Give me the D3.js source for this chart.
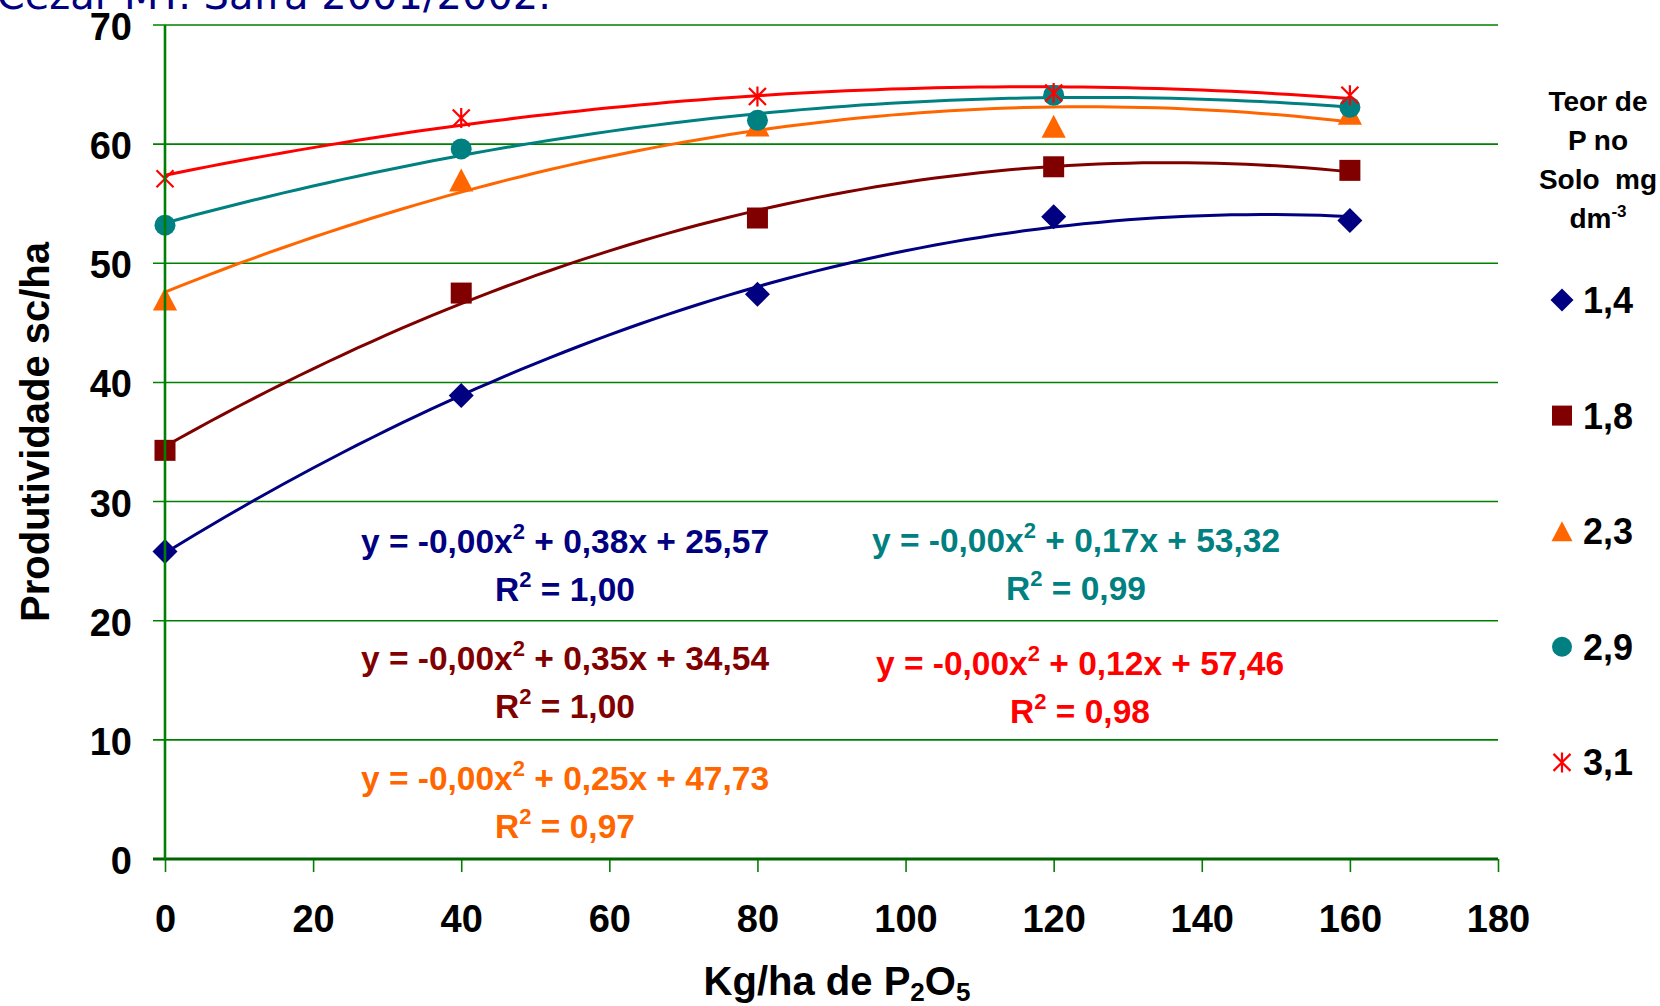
<!DOCTYPE html>
<html>
<head>
<meta charset="utf-8">
<script src="https://cdn.jsdelivr.net/npm/d3@7/dist/d3.min.js"></script>
<style>
body{margin:0;background:#fff;}
svg{display:block;font-family:"Liberation Sans",Arial,sans-serif;font-weight:bold;}
</style>
</head>
<body>
<svg id="chart" width="1660" height="1006"></svg>
<script>
// DATA
var doses = [0, 40, 80, 120, 160];
var teores = ["1,4", "1,8", "2,3", "2,9", "3,1"];
var prod_14 = [25.8, 38.9, 47.4, 53.9, 53.6];
var prod_18 = [34.3, 47.5, 53.8, 58.1, 57.8];
var prod_23 = [47.0, 57.0, 61.6, 61.5, 62.6];
var prod_29 = [53.2, 59.6, 62.0, 64.1, 63.1];
var prod_31 = [57.1, 62.2, 64.0, 64.3, 64.1];

// EQUATION LABELS AS PRINTED
var coef_lin = ["0,38", "0,35", "0,25", "0,17", "0,12"];
var coef_const = ["25,57", "34,54", "47,73", "53,32", "57,46"];
var r2 = ["1,00", "1,00", "0,97", "0,99", "0,98"];

var x_ticks = [0, 20, 40, 60, 80, 100, 120, 140, 160, 180];
var y_ticks = [0, 10, 20, 30, 40, 50, 60, 70];

// STYLE / LAYOUT
var cores = ["#000080", "#800000", "#FF6600", "#008080", "#FF0000"];
var simbolos = ["diamond", "square", "triangle", "circle", "star"];
var tam = [25, 21, 23, 21, 20];
var eq_pos = [[565, 553], [565, 670], [565, 790], [1076, 552], [1080, 675]];
var verde = "#008000";

var series = [prod_14, prod_18, prod_23, prod_29, prod_31];

var svg = d3.select("#chart");
var x = d3.scaleLinear().domain([0, 180]).range([165, 1498]);
var y = d3.scaleLinear().domain([0, 70]).range([859, 25]);

draw_title();
draw_grid();
draw_trends();
draw_points();
draw_axes();
draw_equations();
draw_legend();


function draw_title(){
    // only the bottom of this line is visible in the picture
    svg.append("text")
        .attr("x", 551)
        .attr("y", 9)
        .attr("text-anchor", "end")
        .attr("fill", "#000080")
        .style("font-family", "'DejaVu Sans', Verdana, sans-serif")
        .style("font-weight", "normal")
        .style("font-size", "40px")
        .text("Cezar MT. Safra 2001/2002.");
}


function draw_grid(){
    // HORIZONTAL LINES, LEFT END STICKS OUT AS A TICK
    svg.append("g").selectAll("line")
        .data(y_ticks.filter(function(d){ return d > 0; }))
        .enter().append("line")
        .attr("x1", 153)
        .attr("x2", x(180))
        .attr("y1", function(d){ return y(d); })
        .attr("y2", function(d){ return y(d); })
        .attr("stroke", verde)
        .attr("stroke-width", 1.6);
}


// least squares 2nd order, same as the excel trendline
function polyfit2(xs, ys){
    var n = xs.length, s1 = 0, s2 = 0, s3 = 0, s4 = 0, t0 = 0, t1 = 0, t2 = 0;
    for(var i = 0; i < n; i++){
        var a = xs[i], b = ys[i];
        s1 += a; s2 += a*a; s3 += a*a*a; s4 += a*a*a*a;
        t0 += b; t1 += a*b; t2 += a*a*b;
    }
    var m = [[n, s1, s2], [s1, s2, s3], [s2, s3, s4]];
    var v = [t0, t1, t2];
    function det(q){
        return q[0][0]*(q[1][1]*q[2][2]-q[1][2]*q[2][1])
             - q[0][1]*(q[1][0]*q[2][2]-q[1][2]*q[2][0])
             + q[0][2]*(q[1][0]*q[2][1]-q[1][1]*q[2][0]);
    }
    var d = det(m), out = [];
    for(var c = 0; c < 3; c++){
        var q = m.map(function(row, r){ return row.map(function(val, k){ return k == c ? v[r] : val; }); });
        out.push(det(q)/d);
    }
    return out; // c0, c1, c2
}


function draw_trends(){
    var line = d3.line()
        .x(function(d){ return x(d[0]); })
        .y(function(d){ return y(d[1]); });

    series.forEach(function(s, i){
        var c = polyfit2(doses, s);
        var pts = d3.range(0, 160.5, 2).map(function(t){
            return [t, c[0] + c[1]*t + c[2]*t*t];
        });
        svg.append("path")
            .attr("d", line(pts))
            .attr("fill", "none")
            .attr("stroke", cores[i])
            .attr("stroke-width", 3);
    });
}


function marker(g, tipo, cor, s){
    var h = s/2;
    if(tipo == "diamond"){
        g.append("path").attr("d", "M0," + (-h) + "L" + h + ",0L0," + h + "L" + (-h) + ",0Z").attr("fill", cor);
    }
    if(tipo == "square"){
        g.append("rect").attr("x", -h).attr("y", -h).attr("width", s).attr("height", s).attr("fill", cor);
    }
    if(tipo == "triangle"){
        g.append("path").attr("d", "M0," + (-h) + "L" + (h*1.05) + "," + h + "L" + (-h*1.05) + "," + h + "Z").attr("fill", cor);
    }
    if(tipo == "circle"){
        g.append("circle").attr("r", h).attr("fill", cor);
    }
    if(tipo == "star"){
        var k = h*0.85;
        g.append("path")
            .attr("d", "M" + (-k) + "," + (-k) + "L" + k + "," + k + "M" + k + "," + (-k) + "L" + (-k) + "," + k + "M0," + (-h) + "L0," + h)
            .attr("stroke", cor).attr("stroke-width", 2.2).attr("fill", "none");
    }
}


function draw_points(){
    series.forEach(function(s, i){
        s.forEach(function(v, j){
            var g = svg.append("g").attr("transform", "translate(" + x(doses[j]) + "," + y(v) + ")");
            marker(g, simbolos[i], cores[i], tam[i]);
        });
    });
}


function draw_axes(){
    var xa = svg.append("g")
        .attr("transform", "translate(0," + y(0) + ")")
        .call(d3.axisBottom(x).tickValues(x_ticks).tickSize(13).tickPadding(33).tickFormat(d3.format("d")));
    xa.select(".domain").remove();
    xa.selectAll("line").attr("stroke", verde).attr("stroke-width", 1.6);
    xa.selectAll("text").attr("fill", "#000").style("font-size", "38px").style("font-family", "'Liberation Sans', Arial, sans-serif");

    var ya = svg.append("g")
        .attr("transform", "translate(" + x(0) + ",0)")
        .call(d3.axisLeft(y).tickValues(y_ticks).tickSize(0).tickPadding(33).tickFormat(d3.format("d")));
    ya.select(".domain").remove();
    ya.selectAll("text").attr("dy", "0.38em").attr("fill", "#000").style("font-size", "38px").style("font-family", "'Liberation Sans', Arial, sans-serif");

    // ZERO LINE AND VERTICAL AXIS
    svg.append("line")
        .attr("x1", 153).attr("x2", x(180))
        .attr("y1", y(0)).attr("y2", y(0))
        .attr("stroke", "#006400").attr("stroke-width", 3);
    svg.append("line")
        .attr("x1", x(0)).attr("x2", x(0))
        .attr("y1", y(70)).attr("y2", y(0))
        .attr("stroke", verde).attr("stroke-width", 2.6);

    // AXIS TITLES
    svg.append("text")
        .attr("transform", "translate(49,432) rotate(-90)")
        .attr("text-anchor", "middle")
        .style("font-size", "40px")
        .text("Produtividade sc/ha");

    var xt = svg.append("text")
        .attr("x", 837)
        .attr("y", 995)
        .attr("text-anchor", "middle")
        .style("font-size", "40px");
    xt.append("tspan").text("Kg/ha de P");
    xt.append("tspan").attr("dy", 6).style("font-size", "26px").text("2");
    xt.append("tspan").attr("dy", -6).text("O");
    xt.append("tspan").attr("dy", 6).style("font-size", "26px").text("5");
}


function draw_equations(){
    for(var i = 0; i < 5; i++){
        var t = svg.append("text")
            .attr("x", eq_pos[i][0])
            .attr("y", eq_pos[i][1])
            .attr("text-anchor", "middle")
            .attr("fill", cores[i])
            .style("font-size", "33.5px");
        t.append("tspan").text("y = -0,00x");
        t.append("tspan").attr("dy", -14).style("font-size", "22px").text("2");
        t.append("tspan").attr("dy", 14).text(" + " + coef_lin[i] + "x + " + coef_const[i]);

        var r = svg.append("text")
            .attr("x", eq_pos[i][0])
            .attr("y", eq_pos[i][1] + 48)
            .attr("text-anchor", "middle")
            .attr("fill", cores[i])
            .style("font-size", "33.5px");
        r.append("tspan").text("R");
        r.append("tspan").attr("dy", -14).style("font-size", "22px").text("2");
        r.append("tspan").attr("dy", 14).text(" = " + r2[i]);
    }
}


function draw_legend(){
    var titulo = ["Teor de", "P no", "Solo  mg", "dm"];
    var lt = svg.append("text")
        .attr("text-anchor", "middle")
        .style("font-size", "28px")
        .style("white-space", "pre")
        .attr("xml:space", "preserve");
    titulo.forEach(function(l, i){
        lt.append("tspan").attr("x", 1598).attr("y", 111 + i*39).text(l);
        if(i == 3){
            lt.append("tspan").attr("dy", -11).style("font-size", "17px").text("-3");
        }
    });

    teores.forEach(function(t, i){
        var cy = 300 + i*115.6;
        var g = svg.append("g").attr("transform", "translate(1562," + cy + ")");
        marker(g, simbolos[i], cores[i], i == 0 ? 23 : 20);
        svg.append("text")
            .attr("x", 1583)
            .attr("y", cy + 13)
            .style("font-size", "36px")
            .text(t);
    });
}
</script>
</body>
</html>
